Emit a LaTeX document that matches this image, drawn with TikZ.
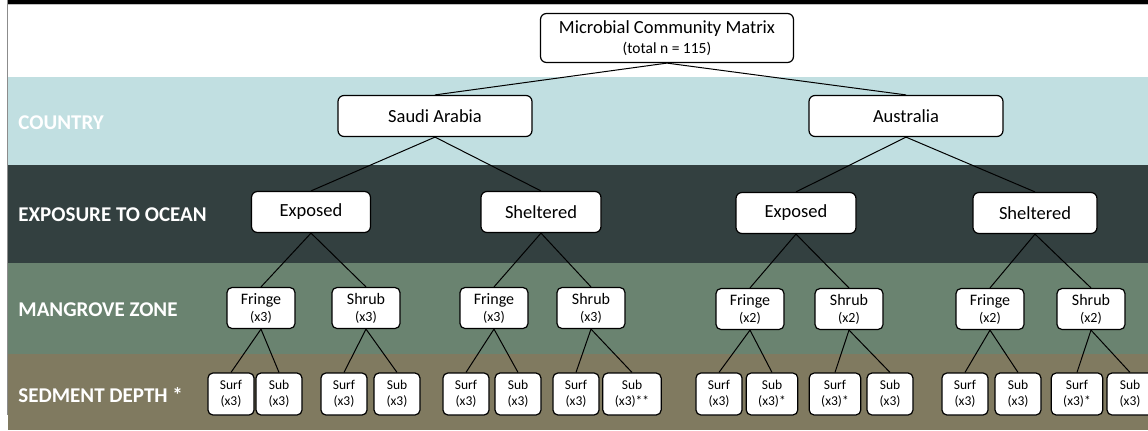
\documentclass[tikz,border=0pt]{standalone}
\usepackage{fontspec}
\setmainfont{Carlito}
\definecolor{bandcountry}{RGB}{193,223,225}
\definecolor{bandexposure}{RGB}{51,64,64}
\definecolor{bandzone}{RGB}{106,131,112}
\definecolor{banddepth}{RGB}{128,122,96}
\newcommand{\reps}[1]{{\fontsize{7}{8.5}\selectfont #1}}

\begin{document}
\begin{tikzpicture}[x=0.5pt, y=-0.5pt,
      box/.style={draw, fill=white, line width=0.6pt, align=center, inner sep=1pt},
      rootbox/.style={box, rounded corners=3pt, minimum width=126.5pt, minimum height=24.5pt, font=\fontsize{9.25}{10}\selectfont},
      lvlbox/.style={box, rounded corners=3pt, minimum height=20.5pt, font=\fontsize{9.25}{11}\selectfont},
      zonebox/.style={box, rounded corners=2.5pt, minimum width=34pt, minimum height=20.5pt, font=\fontsize{8}{8.5}\selectfont},
      depthbox/.style={box, rounded corners=2.5pt, inner xsep=6pt, minimum width=23pt, minimum height=21pt, font=\fontsize{6.75}{8}\selectfont},
      bandlabel/.style={anchor=west, inner sep=0pt, text=white, font=\bfseries\fontsize{10.5}{12}\selectfont},
      link/.style={draw=black, line width=0.5pt}
    ]
      \useasboundingbox (0,0) rectangle (1148,430);
      \clip (0,0) rectangle (1148,430);

      % Background bands
      \fill[white] (0,0) rectangle (1148,430);
      \fill[black] (8,0) rectangle (1148,4);
      \fill[black!25] (8,4) rectangle (1148,5);
      \fill[bandcountry] (8,77) rectangle (1148,165);
      \fill[bandexposure] (8,165) rectangle (1148,263);
      \fill[bandzone] (8,263) rectangle (1148,354);
      \fill[banddepth] (8,354) rectangle (1148,430);
      \fill[black!45] (6.5,0) rectangle (8,415);

      % Band labels
      \node[bandlabel] (lblcountry) at (18,123) {COUNTRY};
      \node[bandlabel] (lblexposure) at (18,215) {EXPOSURE TO OCEAN};
      \node[bandlabel] (lblzone) at (18,310) {MANGROVE ZONE};
      \node[bandlabel] (lbldepth) at (18,395) {SEDMENT DEPTH *};

      % Root
      \node[rootbox] (root) at (667,38) {Microbial Community Matrix\\{\fontsize{7.75}{9}\selectfont (total n = 115)}};

      % Country
      \node[lvlbox, minimum width=97pt] (sa) at (435,116) {Saudi Arabia};
      \node[lvlbox, minimum width=97pt] (au) at (906,116) {Australia};

      % Exposure to ocean
      \node[lvlbox, minimum width=59.5pt] (saexp) at (311,212) {Exposed};
      \node[lvlbox, minimum width=60pt] (sashel) at (541,212) {Sheltered};
      \node[lvlbox, minimum width=60pt] (auexp) at (796,213) {Exposed};
      \node[lvlbox, minimum width=62pt] (aushel) at (1035,213) {Sheltered};

      % Mangrove zone
      \node[zonebox] (saef) at (261,308) {Fringe\\\reps{(x3)}};
      \node[zonebox] (saes) at (366,308) {Shrub\\\reps{(x3)}};
      \node[zonebox] (sasf) at (494,308) {Fringe\\\reps{(x3)}};
      \node[zonebox] (sass) at (591,308) {Shrub\\\reps{(x3)}};
      \node[zonebox] (auef) at (750,309) {Fringe\\\reps{(x2)}};
      \node[zonebox] (aues) at (849,309) {Shrub\\\reps{(x2)}};
      \node[zonebox] (ausf) at (990,309) {Fringe\\\reps{(x2)}};
      \node[zonebox] (auss) at (1091,309) {Shrub\\\reps{(x2)}};

      % Sediment depth
      \node[depthbox] (saef-surf) at (231,394) {Surf\\(x3)};
      \node[depthbox] (saef-sub) at (279,394) {Sub\\(x3)};
      \node[depthbox] (saes-surf) at (344,394) {Surf\\(x3)};
      \node[depthbox] (saes-sub) at (397,394) {Sub\\(x3)};
      \node[depthbox] (sasf-surf) at (466,394) {Surf\\(x3)};
      \node[depthbox] (sasf-sub) at (518,394) {Sub\\(x3)};
      \node[depthbox] (sass-surf) at (576,394) {Surf\\(x3)};
      \node[depthbox] (sass-sub) at (632,394) {Sub\\(x3)**};
      \node[depthbox] (auef-surf) at (719,394) {Surf\\(x3)};
      \node[depthbox] (auef-sub) at (772,394) {Sub\\(x3)*};
      \node[depthbox] (aues-surf) at (835,394) {Surf\\(x3)*};
      \node[depthbox] (aues-sub) at (890,394) {Sub\\(x3)};
      \node[depthbox] (ausf-surf) at (965,394) {Surf\\(x3)};
      \node[depthbox] (ausf-sub) at (1018,394) {Sub\\(x3)};
      \node[depthbox] (auss-surf) at (1077,394) {Surf\\(x3)*};
      \node[depthbox] (auss-sub) at (1130,394) {Sub\\(x3)};

      % Connectors
      \foreach \up/\down in {root/sa, root/au, sa/saexp, sa/sashel, au/auexp, au/aushel,
          saexp/saef, saexp/saes, sashel/sasf, sashel/sass,
          auexp/auef, auexp/aues, aushel/ausf, aushel/auss}
        \draw[link] (\up.south) -- (\down.north);
      \foreach \z in {saef, saes, sasf, sass, auef, aues, ausf, auss} {
        \draw[link] (\z.south) -- (\z-surf.north);
        \draw[link] (\z.south) -- (\z-sub.north);
      }
    \end{tikzpicture}
\end{document}
